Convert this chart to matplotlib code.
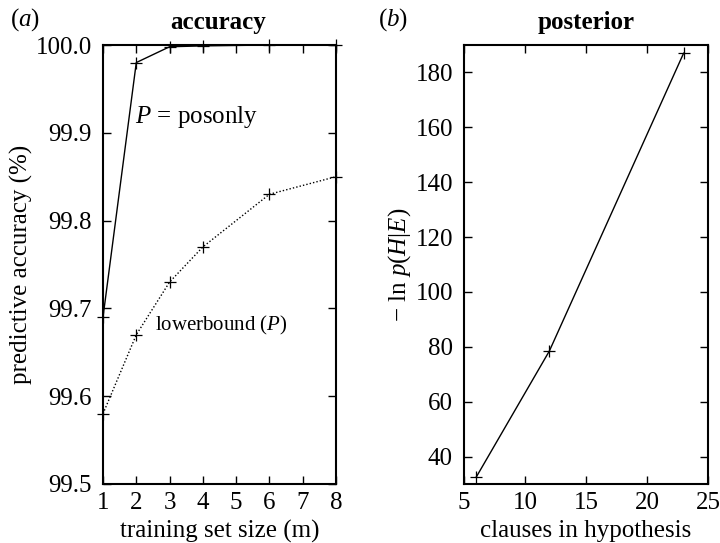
import matplotlib
matplotlib.use("Agg")
import matplotlib.pyplot as plt
from matplotlib.ticker import MultipleLocator, FormatStrFormatter

plt.rcParams['font.family'] = ['Liberation Serif', 'DejaVu Serif']
plt.rcParams['mathtext.fontset'] = 'custom'
plt.rcParams['mathtext.rm'] = 'Liberation Serif'
plt.rcParams['mathtext.it'] = 'Liberation Serif:italic'
plt.rcParams['mathtext.bf'] = 'Liberation Serif:bold'

# Panel (a): accuracy
m_posonly = [1, 2, 3, 4, 6, 8]
acc_posonly = [99.69, 99.98, 99.998, 99.999, 100.0, 100.0]
m_lower = [1, 2, 3, 4, 6, 8]
acc_lower = [99.58, 99.67, 99.73, 99.77, 99.83, 99.85]

# Panel (b): posterior
clauses = [6, 12, 23]
neg_ln_post = [32.5, 78.5, 187.0]

FS = 18
fig = plt.figure(figsize=(7.2, 5.43), dpi=100)
ax1 = fig.add_axes([103/720, 59/543, 233/720, 439/543])
ax2 = fig.add_axes([464/720, 59/543, 244/720, 439/543])

ax1.plot(m_posonly, acc_posonly, color='black', lw=1.0, marker='+', ms=8, mew=0.9, clip_on=False)
ax1.plot(m_lower, acc_lower, color='black', lw=1.0, ls=(0, (1, 1.5)), marker='+', ms=8, mew=0.9, clip_on=False)
ax1.set_xlim(1, 8)
ax1.set_ylim(99.5, 100.0)
ax1.xaxis.set_major_locator(MultipleLocator(1))
ax1.yaxis.set_major_locator(MultipleLocator(0.1))
ax1.yaxis.set_major_formatter(FormatStrFormatter('%.1f'))
ax1.set_xlabel('training set size (m)', fontsize=FS, labelpad=4)
ax1.set_ylabel('predictive accuracy (%)', fontsize=FS, labelpad=2)
ax1.text(1.95, 99.918, r'$P$ = posonly', fontsize=FS, ha='left', va='center')
ax1.text(2.56, 99.68, r'lowerbound ($P$)', fontsize=15, ha='left', va='center')

ax2.plot(clauses, neg_ln_post, color='black', lw=1.0, marker='+', ms=8, mew=0.9, clip_on=False)
ax2.set_xlim(5, 25)
ax2.set_ylim(30, 190)
ax2.xaxis.set_major_locator(MultipleLocator(5))
ax2.yaxis.set_major_locator(MultipleLocator(20))
ax2.set_xlabel('clauses in hypothesis', fontsize=FS, labelpad=4)
ax2.set_ylabel(r'$-$ ln $p(H|E)$', fontsize=FS, labelpad=2)

for ax in (ax1, ax2):
    ax.tick_params(axis='x', direction='in', length=6, width=1.0, top=True,
                   labelsize=FS, pad=6)
    ax.tick_params(axis='y', direction='in', length=6, width=1.0, right=True,
                   labelsize=FS, pad=8)
    for s in ax.spines.values():
        s.set_linewidth(1.5)

fig.text(218/720, 1 - 22/543, 'accuracy', fontsize=FS, fontweight='bold', ha='center', va='center')
fig.text(586/720, 1 - 22/543, 'posterior', fontsize=FS, fontweight='bold', ha='center', va='center')
fig.text(10/720, 1 - 20/543, r'($a$)', fontsize=FS, ha='left', va='center')
fig.text(378/720, 1 - 20/543, r'($b$)', fontsize=FS, ha='left', va='center')

fig.savefig('out.png', dpi=100)
